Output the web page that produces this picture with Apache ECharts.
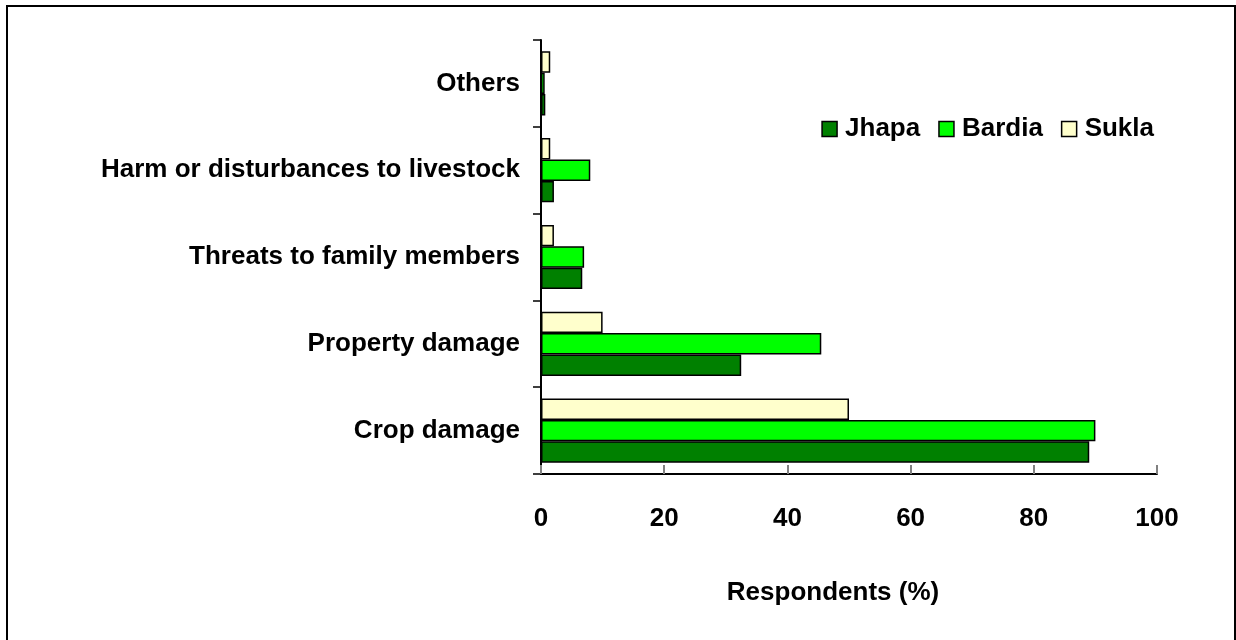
<!DOCTYPE html>
<html>
<head>
<meta charset="utf-8">
<script src="https://cdn.jsdelivr.net/npm/echarts@6/dist/echarts.min.js"></script>
<style>
  html, body { margin: 0; padding: 0; background: #fff; }
  #chart { width: 1236px; height: 640px; }
</style>
</head>
<body>
<div id="chart"></div>
<script>
const categories = ['Crop damage', 'Property damage', 'Threats to family members', 'Harm or disturbances to livestock', 'Others'];
const jhapa = [89, 32.5, 6.7, 2.1, 0.7];
const bardia = [90, 45.5, 7, 8, 0.6];
const sukla = [50, 10, 2.1, 1.5, 1.5];
const xTicks = [0, 20, 40, 60, 80, 100];

const font = 'Liberation Sans, Arial, sans-serif';
const txt = { fontFamily: font, fontWeight: 'bold', fontSize: 26, color: '#000' };

const makeSeries = (name, data, color) => {
  return {
    name: name,
    type: 'bar',
    data: data,
    barGap: '0%',
    barCategoryGap: '26%',
    itemStyle: {
      color: color,
      borderColor: '#000',
      borderWidth: 1.5
    }
  };
};

const chart = echarts.init(document.querySelector('#chart'));
chart.setOption({
  animation: false,
  textStyle: { fontFamily: font },
  graphic: [{
    type: 'rect',
    shape: { x: 7, y: 6, width: 1228, height: 640 },
    style: { fill: 'none', stroke: '#000', lineWidth: 2 }
  }],
  legend: {
    right: 77,
    top: 111,
    icon: 'rect',
    itemWidth: 15,
    itemHeight: 15,
    itemGap: 18,
    textStyle: Object.assign({}, txt, { padding: [0, 0, 0, 3] }),
    data: [
      { name: 'Jhapa', itemStyle: { borderColor: '#000', borderWidth: 1.5 } },
      { name: 'Bardia', itemStyle: { borderColor: '#000', borderWidth: 1.5 } },
      { name: 'Sukla', itemStyle: { borderColor: '#000', borderWidth: 1.5 } }
    ]
  },
  grid: { left: 541, right: 79, top: 40, bottom: 166 },
  xAxis: {
    type: 'value',
    min: xTicks[0],
    max: xTicks[xTicks.length - 1],
    interval: 20,
    name: 'Respondents (%)',
    nameLocation: 'middle',
    nameGap: 106,
    nameTextStyle: Object.assign({}, txt, { padding: [0, 32, 0, 0] }),
    axisLine: { show: true, lineStyle: { color: '#000', width: 2 } },
    axisTick: { show: true, inside: true, length: 9, lineStyle: { color: '#808080', width: 2 } },
    axisLabel: Object.assign({}, txt, { margin: 32 }),
    splitLine: { show: false }
  },
  yAxis: {
    type: 'category',
    data: categories,
    axisLine: { show: true, lineStyle: { color: '#000', width: 2 } },
    axisTick: { show: true, length: 8, lineStyle: { color: '#000', width: 1.5 } },
    axisLabel: Object.assign({}, txt, { margin: 21 })
  },
  // reversed so Jhapa sits at the bottom of each group
  series: [
    makeSeries('Sukla', sukla, '#ffffcc'),
    makeSeries('Bardia', bardia, '#00ff00'),
    makeSeries('Jhapa', jhapa, '#008000')
  ]
});
</script>
</body>
</html>
